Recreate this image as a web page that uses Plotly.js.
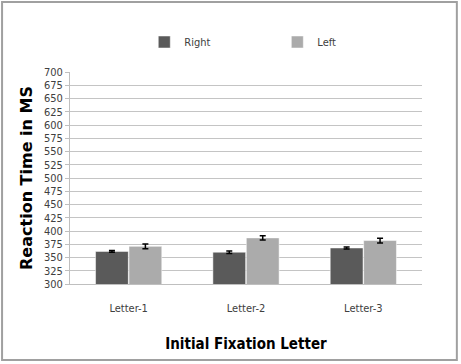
<!DOCTYPE html>
<html>
<head>
<meta charset="utf-8">
<script src="https://cdn.plot.ly/plotly-3.0.1.min.js"></script>
<style>html,body{margin:0;padding:0;background:#fff;}#chart{width:461px;height:364px;}</style>
</head>
<body>
<div id="chart"></div>
<script>
var categories = ["Letter-1", "Letter-2", "Letter-3"];
var rightValues = [361.5, 360, 368];
var rightErrors = [1.5, 2.5, 2];
var leftValues = [371, 387, 382];
var leftErrors = [4.5, 4, 4.5];
var yTickValues = [300,325,350,375,400,425,450,475,500,525,550,575,600,625,650,675,700];

var narrow = "DejaVu Sans Condensed, Liberation Sans Narrow, sans-serif";
var tickFont = {family: narrow, size: 11, color: "#404040"};

var traces = [
  {
    type: "bar", name: "Right", x: categories, y: rightValues, legend: "legend",
    marker: {color: "#5a5a5a", line: {color: "#ffffff", width: 0.5}},
    error_y: {type: "data", array: rightErrors, visible: true, color: "#000", thickness: 1.5, width: 3}
  },
  {
    type: "bar", name: "Left", x: categories, y: leftValues, legend: "legend2",
    marker: {color: "#ababab", line: {color: "#ffffff", width: 0.5}},
    error_y: {type: "data", array: leftErrors, visible: true, color: "#000", thickness: 1.5, width: 3}
  }
];

var legendFont = {family: narrow, size: 11, color: "#404040"};
var layout = {
  width: 461, height: 364,
  margin: {l: 70, r: 39, t: 72, b: 80},
  paper_bgcolor: "#ffffff", plot_bgcolor: "#ffffff",
  barmode: "group", bargap: 0.43, bargroupgap: 0.02,
  showlegend: true,
  legend: {x: 0.211, xanchor: "left", y: 1.1415, yanchor: "middle", font: legendFont,
           itemwidth: 30, bgcolor: "rgba(0,0,0,0)", borderwidth: 0},
  legend2: {x: 0.589, xanchor: "left", y: 1.1415, yanchor: "middle", font: legendFont,
            itemwidth: 30, bgcolor: "rgba(0,0,0,0)", borderwidth: 0},
  xaxis: {
    type: "category",
    showgrid: false, showline: true, linecolor: "#bfbfbf", linewidth: 1,
    ticks: "", tickfont: tickFont, ticklabelstandoff: 14,
    title: {text: "<b>Initial Fixation Letter</b>", font: {family: narrow, size: 15, color: "#000"}, standoff: 24}
  },
  yaxis: {
    range: [300, 700], tickvals: yTickValues, ticktext: yTickValues.map(String),
    showgrid: true, gridcolor: "#c4c4c4", gridwidth: 1,
    showline: true, linecolor: "#bfbfbf", ticks: "outside", ticklen: 4, tickcolor: "#bfbfbf",
    zeroline: false, tickfont: tickFont,
    title: {text: "<b>Reaction Time in MS</b>", font: {family: "DejaVu Sans, Verdana, sans-serif", size: 16, color: "#000"}, standoff: 7}
  },
  shapes: [
    {type: "rect", xref: "paper", yref: "paper", x0: -0.193, x1: 1.099, y0: -0.358, y1: 1.33,
     line: {color: "#a0a0a0", width: 2}, fillcolor: "rgba(0,0,0,0)", layer: "below"}
  ]
};

Plotly.newPlot("chart", traces, layout, {displayModeBar: false, staticPlot: true});
</script>
</body>
</html>
